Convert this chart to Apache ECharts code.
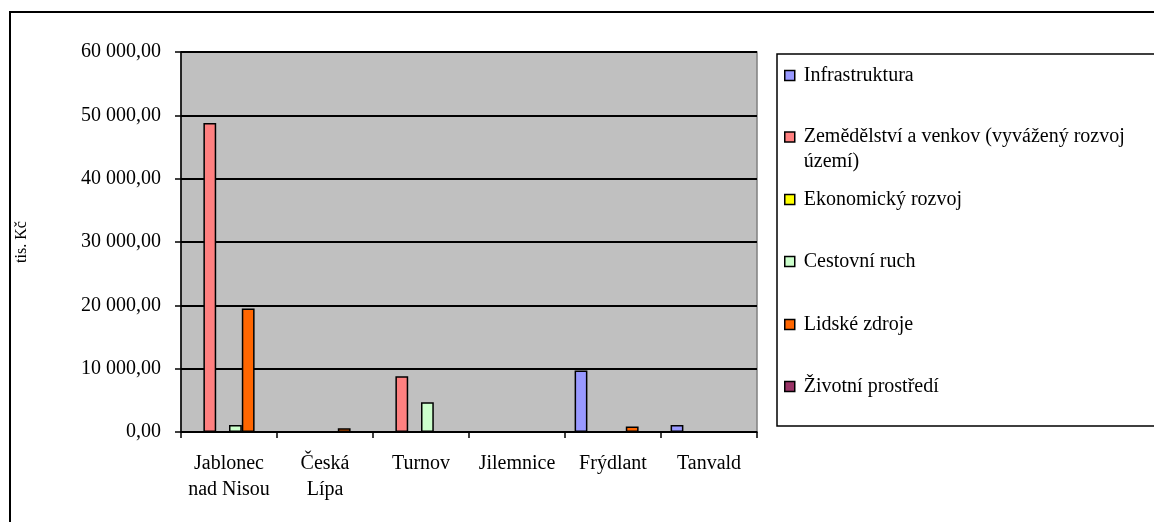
<!DOCTYPE html>
<html lang="cs">
<head>
<meta charset="UTF-8">
<title>Graf</title>
<style>
  html, body { margin: 0; padding: 0; background: #fff; }
  #main { width: 1154px; height: 522px; }
</style>
</head>
<body>
<div id="main"></div>
<script src="https://cdn.jsdelivr.net/npm/echarts@6/dist/echarts.min.js"></script>
<script>
// kategorie (obce s rozšířenou působností)
var mesta = ['Jablonec\nnad Nisou', 'Česká\nLípa', 'Turnov', 'Jilemnice', 'Frýdlant', 'Tanvald'];
var oblasti = ['Infrastruktura', 'Zemědělství a venkov (vyvážený rozvoj území)', 'Ekonomický rozvoj',
               'Cestovní ruch', 'Lidské zdroje', 'Životní prostředí'];
var barvy = ['#9999FF', '#FF8080', '#FFFF00', '#CCFFCC', '#FF6600', '#993366'];

// hodnoty v tis. Kč
var infrastruktura = [0, 0, 0, 0, 9700, 1100];
var zemedelstvi    = [48800, 0, 8800, 0, 0, 0];
var ekonomicky     = [0, 0, 0, 0, 0, 0];
var cestovniRuch   = [1100, 0, 4700, 0, 0, 0];
var lidskeZdroje   = [19500, 600, 0, 0, 850, 0];
var zivotni        = [0, 0, 0, 0, 0, 0];
var hodnoty = [infrastruktura, zemedelstvi, ekonomicky, cestovniRuch, lidskeZdroje, zivotni];

var font = 'Liberation Serif';

function cislo(v) {
    var s = Math.round(v).toString().replace(/\B(?=(\d{3})+(?!\d))/g, ' ');
    return s + ',00';
}

var series = [];
for (var i = 0; i < oblasti.length; i++) {
    series.push({
        name: oblasti[i],
        type: 'bar',
        data: hodnoty[i],
        barGap: '0%',
        barCategoryGap: '20%',
        itemStyle: { color: barvy[i], borderColor: '#000', borderWidth: 1.5 }
    });
}

// legenda - kazda polozka zvlast, aby sedely pozice jako v predloze
var stredy = [74, 137, 198, 260, 323, 385];
var legendy = [];
for (var j = 0; j < oblasti.length; j++) {
    var dvaRadky = (j === 1);
    legendy.push({
        data: [oblasti[j]],
        left: 784,
        top: dvaRadky ? stredy[j] - 37.5 : stredy[j] - 9.5,
        padding: 0,
        icon: 'rect',
        itemWidth: 10,
        itemHeight: 10,
        itemStyle: { borderColor: '#000', borderWidth: 1.5 },
        selectedMode: false,
        // prazdny prvni radek, aby byla ikona u prvniho radku textu
        formatter: dvaRadky ? function (n) { return '\u00a0\nZemědělství a venkov (vyvážený rozvoj\núzemí)'; } : null,
        textStyle: {
            fontFamily: font,
            fontSize: 20,
            color: '#000',
            lineHeight: dvaRadky ? 25 : 22,
            padding: [0, 0, 0, 4]
        }
    });
}

var myChart = echarts.init(document.getElementById('main'));
var option = {
    animation: false,
    backgroundColor: '#fff',
    textStyle: { fontFamily: font },
    graphic: [
        { type: 'rect', shape: { x: 10, y: 12, width: 1160, height: 530 },
          style: { fill: null, stroke: '#000', lineWidth: 2 }, z: 0 },
        { type: 'rect', shape: { x: 777, y: 54, width: 400, height: 372 },
          style: { fill: null, stroke: '#000', lineWidth: 1.5 }, z: 0 }
    ],
    legend: legendy,
    grid: {
        left: 181, right: 397, top: 52, bottom: 90,
        show: true, backgroundColor: '#C0C0C0', borderColor: '#808080', borderWidth: 1.5
    },
    xAxis: {
        type: 'category',
        data: mesta,
        axisLine: { lineStyle: { color: '#000', width: 1.5 } },
        axisTick: { show: true, interval: 0, length: 6, lineStyle: { color: '#000', width: 1.5 } },
        axisLabel: { interval: 0, margin: 19, fontFamily: font, fontSize: 20, color: '#000', lineHeight: 26 }
    },
    yAxis: {
        type: 'value',
        min: 0, max: 60000, interval: 10000,
        name: 'tis. Kč',
        nameLocation: 'middle',
        nameGap: 151,
        nameTextStyle: { fontFamily: font, fontSize: 16, color: '#000' },
        axisLine: { show: true, lineStyle: { color: '#000', width: 1.5 } },
        axisTick: { show: true, length: 6, lineStyle: { color: '#000', width: 1.5 } },
        axisLabel: { margin: 20, fontFamily: font, fontSize: 20, color: '#000', formatter: cislo },
        splitLine: { lineStyle: { color: '#000', width: 2 } }
    },
    series: series
};
myChart.setOption(option);
</script>
</body>
</html>
